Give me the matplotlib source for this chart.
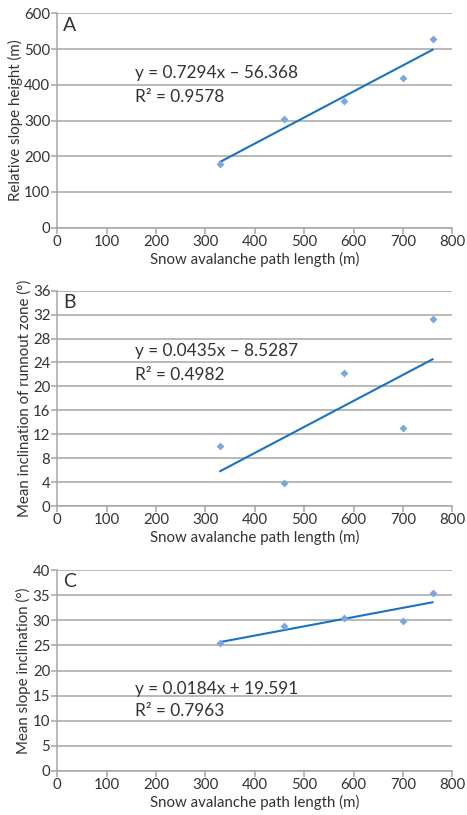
import numpy as np
import matplotlib.pyplot as plt

# data
path_length = [330, 460, 580, 700, 760]
slope_height = [177, 303, 355, 420, 527]
runout_incl = [10.1, 3.8, 22.2, 13.0, 31.3]
slope_incl = [25.4, 28.8, 30.4, 29.9, 35.4]

# trend line coefficients as printed on the chart
fit_a = (0.7294, -56.368)
fit_b = (0.0435, -8.5287)
fit_c = (0.0184, 19.591)

eq_a = ["y = 0.7294x \u2013 56.368", "R\u00b2 = 0.9578"]
eq_b = ["y = 0.0435x \u2013 8.5287", "R\u00b2 = 0.4982"]
eq_c = ["y = 0.0184x + 19.591", "R\u00b2 = 0.7963"]

ylabels = ["Relative slope height (m)",
           "Mean inclination of runnout zone (\u00b0)",
           "Mean slope inclination (\u00b0)"]
ylims = [(0, 600, 100), (0, 36, 4), (0, 40, 5)]
letters = ["A", "B", "C"]
eq_pos = [(0.72, 0.61), (0.72, 0.61), (0.41, 0.30)]

plt.rcParams['font.family'] = ['Lato', 'DejaVu Sans']
grey = '#a6a6a6'
txt = '#333333'

fig = plt.figure(figsize=(4.67, 8.15), dpi=100)
W, H = 467.0, 815.0
# axes boxes in pixels: left, top, right, bottom
boxes = [(57.3, 13.3, 452.3, 227.7),
         (57.3, 290.7, 452.3, 506.0),
         (57.3, 570.0, 452.3, 771.0)]

series = [slope_height, runout_incl, slope_incl]
fits = [fit_a, fit_b, fit_c]
eqs = [eq_a, eq_b, eq_c]

for i in range(3):
    l, t, r, b = boxes[i]
    ax = fig.add_axes([l / W, 1 - b / H, (r - l) / W, (b - t) / H])
    y0, y1, step = ylims[i]
    ax.set_xlim(0, 800)
    ax.set_ylim(y0, y1)
    ax.set_xticks(np.arange(0, 801, 100))
    ax.set_yticks(np.arange(y0, y1 + step / 2, step))
    ax.yaxis.grid(True, color=grey, lw=1.1)
    ax.set_axisbelow(True)
    for s in ['top', 'right']:
        ax.spines[s].set_visible(False)
    for s in ['left', 'bottom']:
        ax.spines[s].set_color(grey)
        ax.spines[s].set_linewidth(1.1)
    ax.tick_params(colors=grey, labelcolor=txt, labelsize=10.8, length=4,
                   width=1.1, pad=1)

    xs = np.array([min(path_length), max(path_length)])
    k, c = fits[i]
    ax.plot(xs, k * xs + c, color='#1a72c2', lw=1.5, zorder=3)
    ax.scatter(path_length, series[i], marker='D', s=16, color='#7aa7e0',
               linewidths=0, zorder=4)

    ax.text(0.015, 0.985, letters[i], transform=ax.transAxes, fontsize=14,
            color=txt, va='top', ha='left')
    ex, ey = eq_pos[i]
    ax.text(0.197, ex, eqs[i][0], transform=ax.transAxes, fontsize=12.4,
            color=txt, va='center')
    ax.text(0.197, ey, eqs[i][1], transform=ax.transAxes, fontsize=12.4,
            color=txt, va='center')

    ax.set_xlabel("Snow avalanche path length (m)", fontsize=10.8, color=txt,
                  labelpad=2.5)
    ax.set_ylabel(ylabels[i], fontsize=10.8, color=txt, labelpad=1)

fig.savefig("out.png", dpi=100)
